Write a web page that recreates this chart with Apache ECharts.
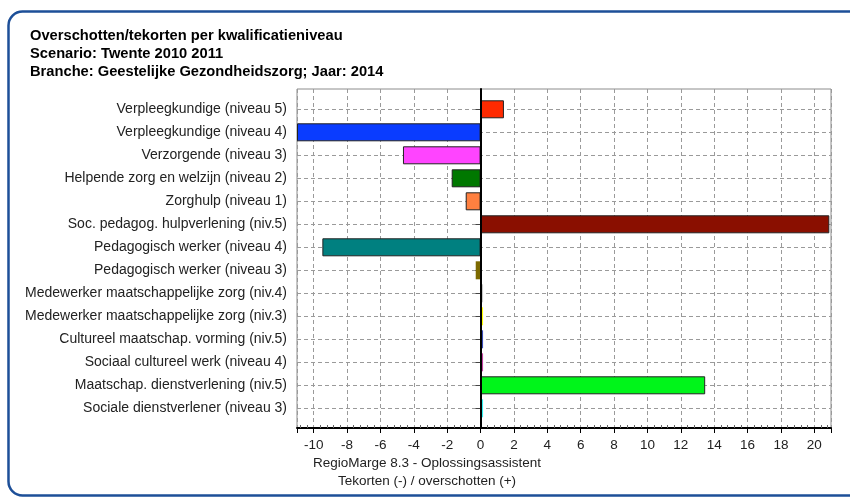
<!DOCTYPE html>
<html>
<head>
<meta charset="utf-8">
<script src="https://cdn.jsdelivr.net/npm/echarts@6/dist/echarts.min.js"></script>
<style>
  html, body { margin: 0; padding: 0; background: #fff; }
  #main { width: 850px; height: 497px; }
</style>
</head>
<body>
<div id="main"></div>
<script>
  // categorieen, van boven naar beneden
  const categories = [
    'Verpleegkundige (niveau 5)',
    'Verpleegkundige (niveau 4)',
    'Verzorgende (niveau 3)',
    'Helpende zorg en welzijn (niveau 2)',
    'Zorghulp (niveau 1)',
    'Soc. pedagog. hulpverlening (niv.5)',
    'Pedagogisch werker (niveau 4)',
    'Pedagogisch werker (niveau 3)',
    'Medewerker maatschappelijke zorg (niv.4)',
    'Medewerker maatschappelijke zorg (niv.3)',
    'Cultureel maatschap. vorming (niv.5)',
    'Sociaal cultureel werk (niveau 4)',
    'Maatschap. dienstverlening (niv.5)',
    'Sociale dienstverlener (niveau 3)'
  ]

  // tekorten (-) / overschotten (+)
  const values = [1.4, -11, -4.65, -1.73, -0.89, 20.9, -9.48, -0.29, 0.15, 0.15, 0.15, 0.15, 13.46, 0.15]

  const barColors = [
    '#ff2a00', '#0a3cff', '#ff44ff', '#007800', '#ff8040', '#8a0f00', '#008080',
    '#7d6a00', '#c8c8c8', '#ffff00', '#3a4cb8', '#c040a0', '#00f51a', '#30f0f0'
  ]

  const xTitleLines = ['RegioMarge 8.3 - Oplossingsassistent', 'Tekorten (-) / overschotten (+)']
  const titleLines = [
    'Overschotten/tekorten per kwalificatieniveau',
    'Scenario: Twente 2010 2011',
    'Branche: Geestelijke Gezondheidszorg; Jaar: 2014'
  ]

  const xMin = -11
  const xMax = 21

  const font = 'Arial, "Liberation Sans", sans-serif'
  const dashed = { color: '#9a9a9a', type: [4, 3], width: 1 }

  const myChart = echarts.init(document.getElementById('main'))

  const option = {
    animation: false,
    backgroundColor: '#fff',
    textStyle: { fontFamily: font },
    grid: [
      // kader + x-as
      { left: 297, top: 89, width: 534, height: 339, show: true, borderColor: '#8c8c8c', borderWidth: 1 },
      // categorieen
      { left: 297, top: 109.3, width: 534, height: 299 }
    ],
    xAxis: [
      {
        gridIndex: 0, type: 'value', min: xMin, max: xMax, splitNumber: 16,
        axisLine: { show: true, lineStyle: { color: '#000', width: 2 } },
        axisTick: { show: true, length: 5, lineStyle: { color: '#000' } },
        minorTick: { show: true, splitNumber: 5, length: -3, lineStyle: { color: '#666' } },
        axisLabel: { color: '#222', fontSize: 13.5, margin: 10, showMinLabel: false, showMaxLabel: false },
        splitLine: { show: true, lineStyle: dashed }
      },
      { gridIndex: 1, type: 'value', min: xMin, max: xMax, show: false }
    ],
    yAxis: [
      {
        gridIndex: 0, type: 'value', min: 0, max: 1,
        axisLine: { show: true, lineStyle: { color: '#000', width: 2 } },
        axisTick: { show: false }, axisLabel: { show: false }, splitLine: { show: false }
      },
      {
        gridIndex: 1, type: 'category', data: categories, inverse: true, boundaryGap: false,
        axisLine: { show: false },
        axisTick: { show: true, length: 5, lineStyle: { color: '#444' } },
        axisLabel: { color: '#222', fontSize: 14, margin: 10 },
        splitLine: { show: true, lineStyle: dashed }
      }
    ],
    series: [
      {
        type: 'bar',
        xAxisIndex: 1, yAxisIndex: 1,
        barWidth: 18,
        clip: false,
        data: values.map((v, i) => ({
          value: v,
          itemStyle: {
            color: barColors[i],
            borderColor: Math.abs(v) < 0.5 ? barColors[i] : '#222',
            borderWidth: Math.abs(v) < 0.5 ? 0 : 1
          }
        }))
      },
      {
        // nullijn
        type: 'line', xAxisIndex: 0, yAxisIndex: 0, data: [],
        markLine: {
          silent: true, symbol: 'none', label: { show: false },
          lineStyle: { color: '#000', width: 2, type: 'solid' },
          data: [{ xAxis: 0 }]
        }
      }
    ],
    graphic: [
      {
        type: 'rect', silent: true,
        shape: { x: 8.5, y: 11.5, width: 900, height: 484, r: 14 },
        style: { fill: 'none', stroke: '#1d4f98', lineWidth: 2.5 }
      },
      ...titleLines.map((t, i) => ({
        type: 'text', left: 30, top: 28 + i * 18,
        style: { text: t, font: 'bold 14.7px ' + font, fill: '#000' }
      })),
      ...xTitleLines.map((t, i) => ({
        type: 'text', x: 427, y: 456 + i * 18,
        style: { text: t, font: '13.5px ' + font, fill: '#222', textAlign: 'center' }
      }))
    ]
  }

  myChart.setOption(option)
</script>
</body>
</html>
